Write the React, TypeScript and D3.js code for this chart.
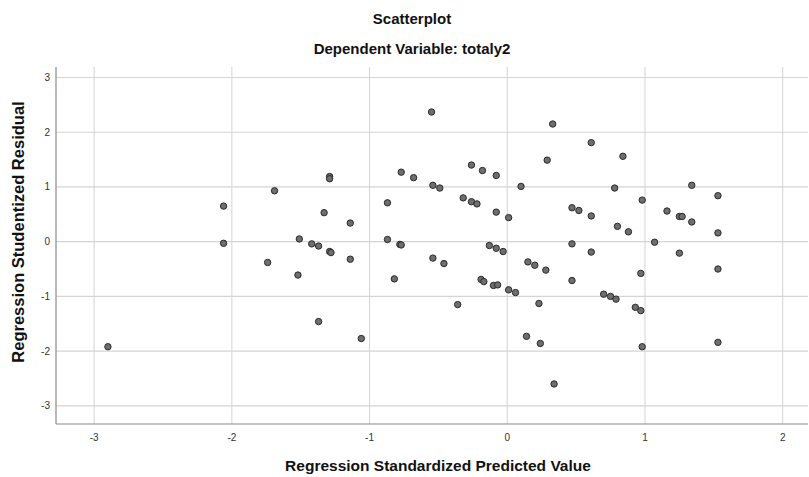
import React from "react";
import * as d3 from "d3";

const predicted = [
  -2.06, -2.06, -1.69, -1.29, -1.29, -1.33, -1.51, -1.42, -1.37, -1.29, -1.28,
  -1.74, -1.52, -1.37, -2.90,
  -1.14, -1.14, -0.87, -0.87, -0.77, -0.78, -0.77, -0.68, -0.55, -0.54, -0.49, -0.54,
  -0.32, -0.26, -0.26, -0.22, -0.18, -0.08, -0.08, -0.13, -0.08, -0.03, 0.01, 0.10,
  0.29, 0.33, 0.47, 0.52, 0.61, 0.61, 0.47, 0.61,
  -1.06, -0.82, -0.46, -0.36, -0.19, -0.17, -0.10, -0.07, 0.01, 0.06, 0.15, 0.20,
  0.28, 0.23, 0.14, 0.24, 0.34, 0.47,
  0.84, 0.78, 0.98, 1.34, 1.53, 0.80, 0.88, 1.16, 1.25, 1.27, 1.34, 1.53, 1.07, 1.25,
  0.97, 1.53, 0.70, 0.75, 0.79, 0.93, 0.97, 0.98, 1.53,
];
const residual = [
  0.65, -0.03, 0.93, 1.19, 1.15, 0.53, 0.05, -0.04, -0.08, -0.18, -0.2,
  -0.38, -0.61, -1.46, -1.92,
  0.34, -0.32, 0.71, 0.04, 1.27, -0.05, -0.06, 1.17, 2.37, 1.03, 0.98, -0.30,
  0.80, 1.40, 0.73, 0.69, 1.30, 1.21, 0.54, -0.07, -0.12, -0.18, 0.44, 1.01,
  1.49, 2.15, 0.62, 0.57, 1.81, 0.47, -0.04, -0.19,
  -1.77, -0.68, -0.40, -1.15, -0.69, -0.73, -0.80, -0.79, -0.88, -0.93, -0.37, -0.43,
  -0.52, -1.13, -1.73, -1.86, -2.60, -0.71,
  1.56, 0.98, 0.76, 1.03, 0.84, 0.28, 0.18, 0.56, 0.46, 0.46, 0.36, 0.16, -0.01, -0.21,
  -0.58, -0.50, -0.96, -1.00, -1.05, -1.20, -1.26, -1.92, -1.84,
];
const xTicks = [-3, -2, -1, 0, 1, 2];
const yTicks = [-3, -2, -1, 0, 1, 2, 3];

const W = 809;
const H = 477;
const left = 56;
const right = 808;
const top = 67;
const bottom = 424;

export default function App() {
  const x = d3.scaleLinear().domain([-3.277, 2.184]).range([left, right]);
  const y = d3.scaleLinear().domain([-3.332, 3.192]).range([bottom, top]);
  const font = "Arial, 'Liberation Sans', Helvetica, sans-serif";
  const titleX = 412;
  return (
    <svg
      width={W}
      height={H}
      style={{ position: "absolute", left: 0, top: 0, background: "#fff" }}
      fontFamily={font}
    >
      <rect x={0} y={0} width={W} height={H} fill="#fff" />
      <text x={titleX} y={24} textAnchor="middle" fontSize={15} fontWeight="bold" fill="#111">
        Scatterplot
      </text>
      <text x={titleX} y={54} textAnchor="middle" fontSize={15} fontWeight="bold" fill="#111">
        Dependent Variable: totaly2
      </text>
      {xTicks.map((t) => (
        <line key={"gx" + t} x1={x(t)} x2={x(t)} y1={top} y2={bottom} stroke="#d4d4d4" strokeWidth={1} />
      ))}
      {yTicks.map((t) => (
        <line key={"gy" + t} x1={left} x2={right} y1={y(t)} y2={y(t)} stroke="#d4d4d4" strokeWidth={1.2} />
      ))}
      <line x1={left} x2={left} y1={top} y2={bottom} stroke="#8a8a8a" strokeWidth={1.2} />
      <line x1={left} x2={right} y1={bottom} y2={bottom} stroke="#8a8a8a" strokeWidth={1.2} />
      {yTicks.map((t) => (
        <text key={"ty" + t} x={left - 6} y={y(t) + 3.5} textAnchor="end" fontSize={10} fill="#333">
          {t}
        </text>
      ))}
      {xTicks.map((t) => (
        <text key={"tx" + t} x={x(t)} y={441} textAnchor="middle" fontSize={10} fill="#333">
          {t}
        </text>
      ))}
      <text x={438} y={471} textAnchor="middle" fontSize={15.5} fontWeight="bold" fill="#111">
        Regression Standardized Predicted Value
      </text>
      <text
        transform={`translate(24,232) rotate(-90)`}
        textAnchor="middle"
        fontSize={16.5}
        fontWeight="bold"
        fill="#111"
      >
        Regression Studentized Residual
      </text>
      {predicted.map((p, i) => (
        <circle
          key={i}
          cx={x(p)}
          cy={y(residual[i])}
          r={3.2}
          fill="#6e6e6e"
          stroke="#2a2a2a"
          strokeWidth={1}
        />
      ))}
    </svg>
  );
}
